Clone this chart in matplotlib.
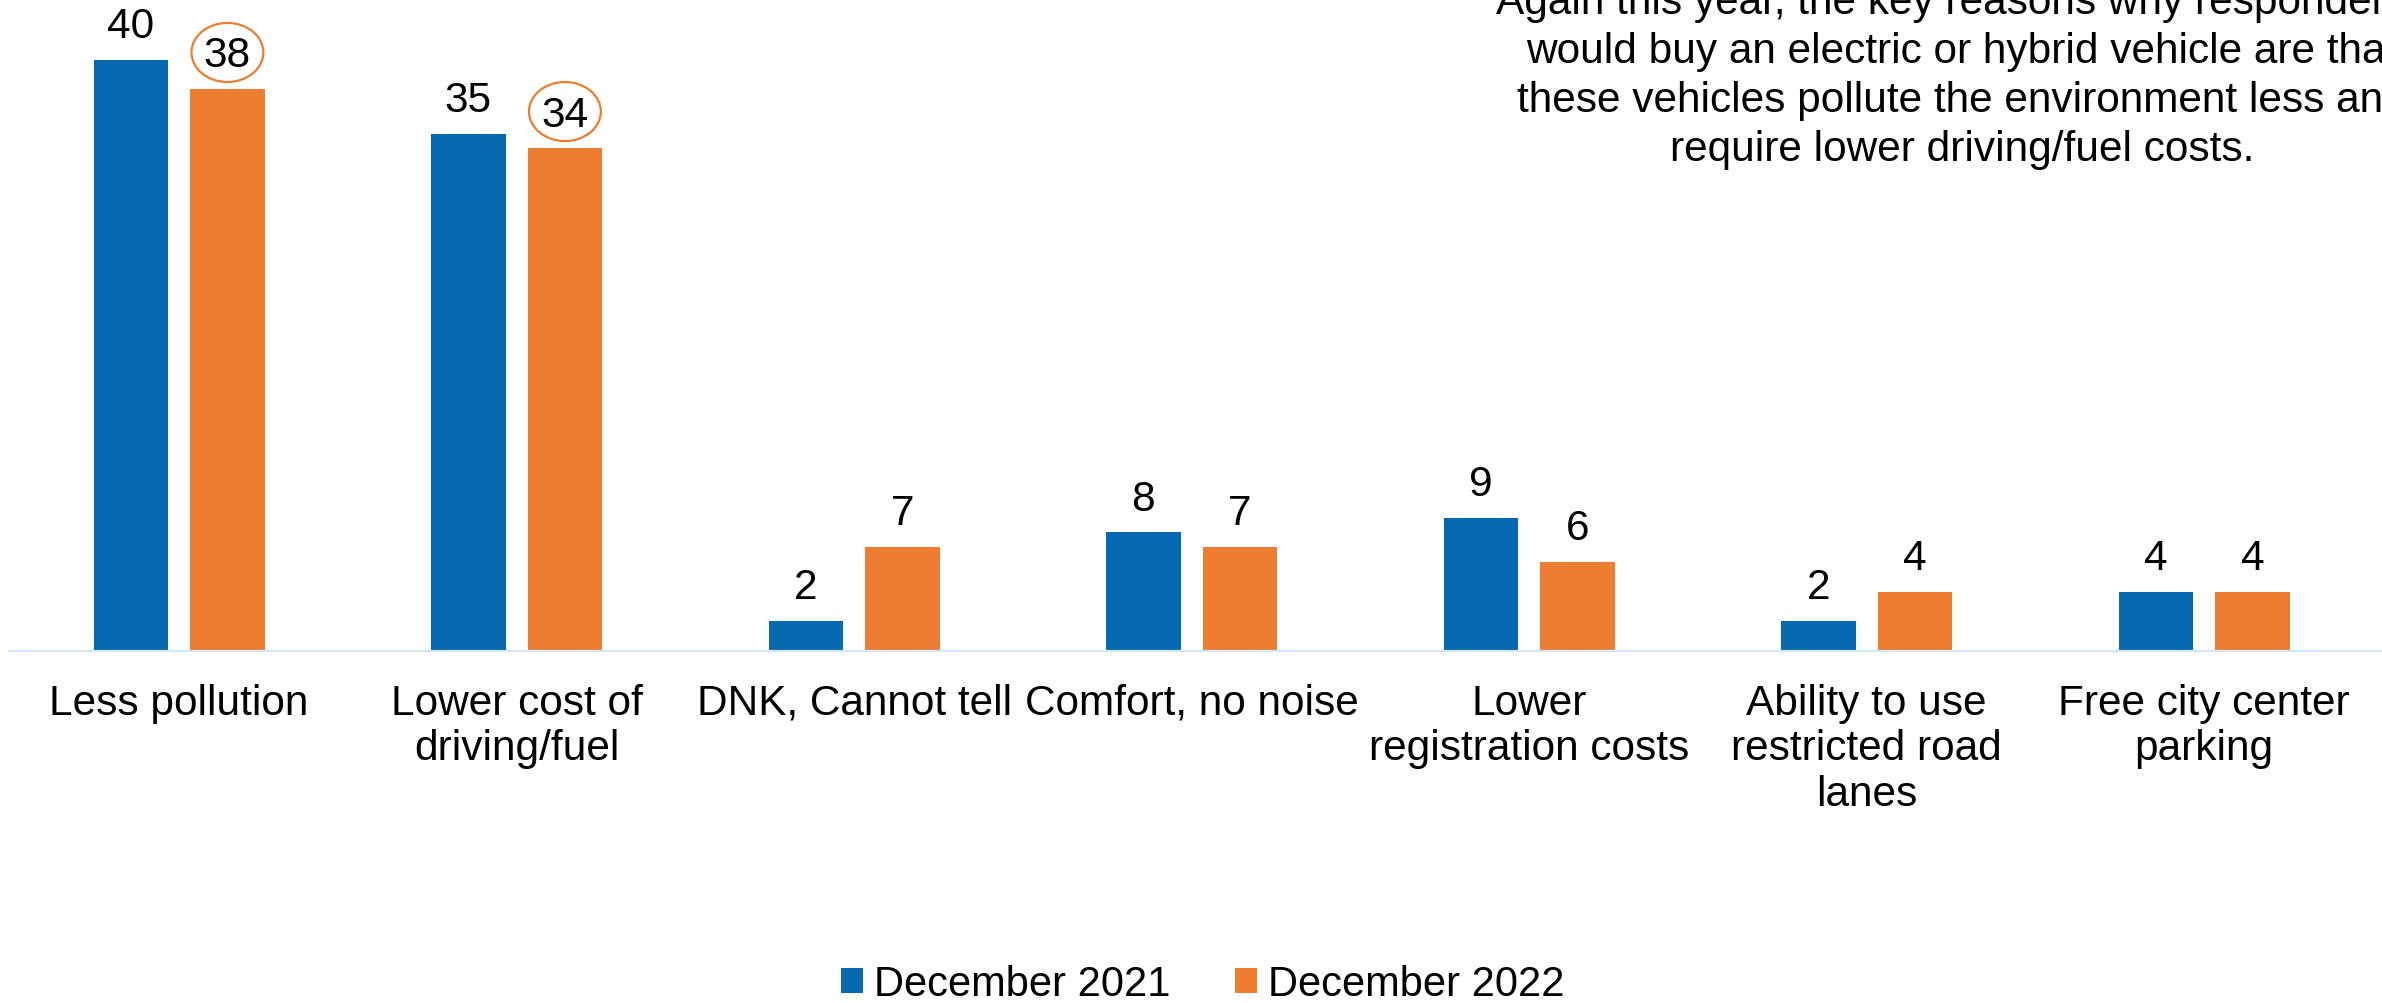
import matplotlib
matplotlib.use("Agg")
import matplotlib.pyplot as plt
from matplotlib.patches import Ellipse
import numpy as np

# Reasons for buying an electric or hybrid vehicle (% of respondents)
categories = [
    "Less pollution",
    "Lower cost of\ndriving/fuel",
    "DNK, Cannot tell",
    "Comfort, no noise",
    "Lower\nregistration costs",
    "Ability to use\nrestricted road\nlanes",
    "Free city center\nparking",
]
dec_2021 = [40, 35, 2, 8, 9, 2, 4]
dec_2022 = [38, 34, 7, 7, 6, 4, 4]
series_names = ["December 2021", "December 2022"]
highlighted = [0, 1]  # 2022 values circled

note = ("Again this year, the key reasons why respondents\n"
        "would buy an electric or hybrid vehicle are that\n"
        "these vehicles pollute the environment less and\n"
        "require lower driving/fuel costs.")

BLUE = "#0668B1"
ORANGE = "#ED7D31"
AXIS = "#D3E7F8"

plt.rcParams["font.family"] = ["Liberation Sans", "DejaVu Sans"]
FS = 30.5

fig = plt.figure(figsize=(23.82, 10.04), dpi=100)
ax = fig.add_axes([0.0038, 0.351, 0.9962, 0.649])

x = np.arange(len(categories))
w = 0.22
off = 0.143
b1 = ax.bar(x - off, dec_2021, w, color=BLUE, label=series_names[0])
b2 = ax.bar(x + off, dec_2022, w, color=ORANGE, label=series_names[1])

for xs, vals in ((x - off, dec_2021), (x + off, dec_2022)):
    for xi, v in zip(xs, vals):
        ax.annotate(f"{v}", (xi, v), xytext=(0, 16.5), textcoords="offset points",
                    ha="center", va="baseline", fontsize=FS, color="black")

for i in highlighted:
    ax.add_patch(Ellipse((x[i] + off, dec_2022[i] + 2.5), 0.213, 4.0,
                         fill=False, edgecolor=ORANGE, linewidth=1.6))

ax.set_xlim(-0.504, 6.527)
ax.set_ylim(0, 44.12)
ax.set_xticks(x)
ax.set_xticklabels(categories, fontsize=FS, linespacing=1.18)
ax.tick_params(axis="x", length=0, pad=23)
ax.set_yticks([])
for s in ("left", "right", "top"):
    ax.spines[s].set_visible(False)
ax.spines["bottom"].set_color(AXIS)
ax.spines["bottom"].set_linewidth(1.6)

fig.text(0.8237, 1 - 160.5 / 1004, note, ha="center", va="baseline",
         fontsize=FS, multialignment="center", linespacing=1.28)

fig.legend(handles=[b1, b2], labels=series_names, loc="lower center",
           bbox_to_anchor=(0.505, -0.001), ncol=2, frameon=False,
           fontsize=30, handlelength=0.53, handleheight=0.53,
           handletextpad=0.26, columnspacing=1.55,
           borderpad=0, borderaxespad=0)

fig.savefig("out.png", dpi=100)
